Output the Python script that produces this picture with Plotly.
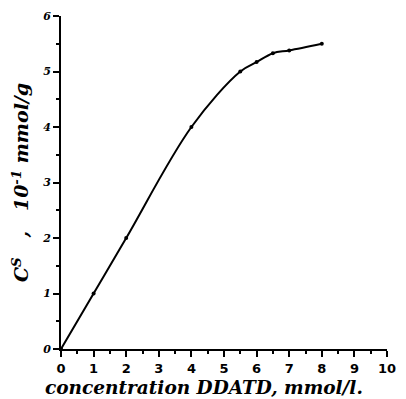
import plotly.graph_objects as go

conc = [0, 1, 2, 4, 5.5, 6, 6.5, 7, 8]
cs = [0, 1.0, 2.0, 4.0, 5.0, 5.17, 5.33, 5.38, 5.5]
xticks = list(range(0, 11))
yticks = list(range(0, 7))

fig = go.Figure()
fig.add_trace(go.Scatter(
    x=conc, y=cs, mode="lines+markers",
    line=dict(color="black", width=2, shape="spline", smoothing=1.0),
    marker=dict(color="black", size=4),
    showlegend=False,
))

sp = "\u00a0"
fig.update_layout(
    width=406, height=399,
    margin=dict(l=61, r=10, t=16, b=50),
    paper_bgcolor="white", plot_bgcolor="white",
    font=dict(family="Liberation Serif", color="black"),
    xaxis=dict(
        range=[0, 10], tickvals=xticks, ticktext=["<b>%d</b>" % v for v in xticks],
        showline=True, linecolor="black", linewidth=2, showgrid=False, zeroline=False,
        ticks="outside", ticklen=6, tickwidth=2, tickcolor="black",
        tickfont=dict(family="DejaVu Sans", size=13),
        minor=dict(dtick=0.5, ticks="outside", ticklen=3, tickwidth=1.5, tickcolor="black"),
    ),
    yaxis=dict(
        range=[0, 6], tickvals=yticks, ticktext=["<b><i>%d</i></b>" % v for v in yticks],
        showline=True, linecolor="black", linewidth=2, showgrid=False, zeroline=False,
        ticks="outside", ticklen=6, tickwidth=2, tickcolor="black",
        tickfont=dict(family="DejaVu Serif", size=11),
        minor=dict(dtick=0.5, ticks="outside", ticklen=3, tickwidth=1.5, tickcolor="black"),
        title=dict(text="<b><i>C<sup>S</sup>" + sp * 3 + "," + sp * 3 + "10<sup>-1</sup> mmol/g</i></b>",
                   font=dict(family="DejaVu Serif", size=19),
                   standoff=8),
    ),
    annotations=[dict(
        text="<b><i>concentration DDATD, mmol/l.</i></b>",
        xref="paper", yref="paper", x=0.439, y=-0.117,
        xanchor="center", yanchor="middle", showarrow=False,
        font=dict(family="DejaVu Serif", size=18.5, color="black"),
    )],
)

fig.write_html("out.html")
